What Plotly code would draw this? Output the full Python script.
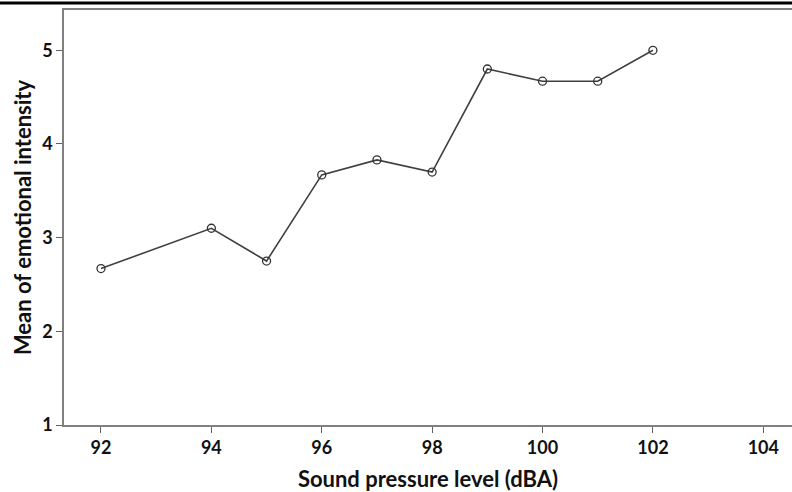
import plotly.graph_objects as go

spl_dba = [92, 94, 95, 96, 97, 98, 99, 100, 101, 102]
mean_intensity = [2.67, 3.10, 2.75, 3.67, 3.83, 3.70, 4.80, 4.67, 4.67, 5.00]
x_ticks = [92, 94, 96, 98, 100, 102, 104]
y_ticks = [1, 2, 3, 4, 5]

W, H = 792, 492
ml, mr, mt, mb = 64, 0, 10, 67

fig = go.Figure()
fig.add_trace(go.Scatter(
    x=spl_dba, y=mean_intensity, mode="lines+markers",
    line=dict(color="#404040", width=1.6),
    marker=dict(symbol="circle-open", size=8, color="#333333", line=dict(width=1.3)),
    showlegend=False,
))

ph = H - mt - mb
pw = W - ml - mr
fig.add_shape(type="line", xref="paper", yref="paper",
              x0=-ml / pw, x1=1.0, y0=1 + 7 / ph, y1=1 + 7 / ph,
              line=dict(color="black", width=3))

tick_font = dict(size=18, family="Lato, 'DejaVu Sans', sans-serif", weight="bold", color="#111111")
title_font = dict(size=22, family="Lato, 'DejaVu Sans', sans-serif", color="#111111")
fig.update_layout(
    width=W, height=H,
    margin=dict(l=ml, r=mr, t=mt, b=mb, pad=0),
    plot_bgcolor="white", paper_bgcolor="white",
    font=dict(family="Lato, 'DejaVu Sans', sans-serif", color="#111111"),
    xaxis=dict(
        range=[91.33, 104.52], tickvals=x_ticks, ticktext=[str(v) for v in x_ticks],
        showgrid=False, zeroline=False, showline=True, linecolor="#808080", linewidth=1.5,
        mirror=True, ticks="outside", ticklen=6, tickcolor="#606060", tickwidth=1,
        tickfont=tick_font,
        title=dict(text="<b>Sound pressure level (dBA)</b>", font=title_font, standoff=16),
    ),
    yaxis=dict(
        range=[1, 5.43], tickvals=y_ticks, ticktext=[str(v) for v in y_ticks],
        showgrid=False, zeroline=False, showline=True, linecolor="#808080", linewidth=1.5,
        ticks="outside", ticklen=6, tickcolor="#606060", tickwidth=1,
        tickfont=tick_font,
        title=dict(text="<b>Mean of emotional intensity</b>", font=title_font, standoff=4),
    ),
)

fig.write_html("out.html", config={"displayModeBar": False},
               post_script="document.body.style.margin='0px';")
